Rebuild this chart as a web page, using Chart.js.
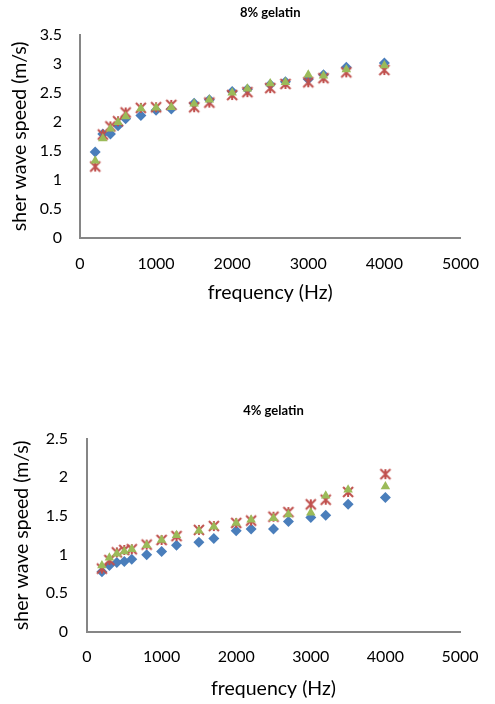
<!DOCTYPE html>
<html>
<head>
<meta charset="utf-8">
<script src="https://cdn.jsdelivr.net/npm/chart.js@4/dist/chart.umd.min.js"></script>
<style>
  html, body { margin: 0; padding: 0; background: #fff; }
  body { width: 495px; height: 704px; position: relative; overflow: hidden; }
  .box { position: absolute; left: 0; width: 495px; }
  #box8 { top: 0; height: 320px; }
  #box4 { top: 400px; height: 304px; }
</style>
</head>
<body>
<div class="box" id="box8"><canvas id="chart-8"></canvas></div>
<div class="box" id="box4"><canvas id="chart-4"></canvas></div>
<script>
// frequencies (Hz), same for both gelatin samples
const freqs = [200, 300, 400, 500, 600, 800, 1000, 1200, 1500, 1700, 2000, 2200, 2500, 2700, 3000, 3200, 3500, 4000];

// 8% gelatin
const g8Blue  = [1.48, 1.79, 1.79, 1.93, 2.05, 2.11, 2.20, 2.22, 2.32, 2.38, 2.52, 2.56, 2.64, 2.69, 2.73, 2.81, 2.94, 3.01];
const g8Red   = [1.23, 1.78, 1.92, 2.01, 2.16, 2.24, 2.25, 2.29, 2.25, 2.33, 2.46, 2.51, 2.58, 2.65, 2.68, 2.75, 2.85, 2.89];
const g8Green = [1.33, 1.71, 1.88, 1.99, 2.09, 2.23, 2.24, 2.25, 2.31, 2.38, 2.50, 2.57, 2.66, 2.68, 2.81, 2.79, 2.90, 2.97];

// 4% gelatin
const g4Blue  = [0.78, 0.86, 0.90, 0.91, 0.94, 1.00, 1.04, 1.12, 1.16, 1.21, 1.31, 1.33, 1.33, 1.43, 1.48, 1.51, 1.65, 1.74];
const g4Red   = [0.82, 0.93, 1.03, 1.06, 1.07, 1.13, 1.19, 1.24, 1.32, 1.37, 1.41, 1.44, 1.49, 1.55, 1.65, 1.71, 1.81, 2.04];
const g4Green = [0.86, 0.96, 1.01, 1.04, 1.07, 1.12, 1.19, 1.25, 1.31, 1.36, 1.41, 1.45, 1.47, 1.52, 1.54, 1.76, 1.84, 1.88];

const xTitle = 'frequency (Hz)';
const yTitle = 'sher wave speed (m/s)';

const FONT = 'Lato, "Open Sans", sans-serif';
const AXIS = '#868686';
const RED = '#C0504D';

// excel-like "star" marker: an X with a vertical bar through it
function starMarker(){
  const c = document.createElement('canvas');
  c.width = 14; c.height = 14;
  const ctx = c.getContext('2d');
  ctx.strokeStyle = RED;
  ctx.lineWidth = 2;
  ctx.lineCap = 'butt';
  ctx.beginPath();
  ctx.moveTo(2, 2); ctx.lineTo(12, 12);
  ctx.moveTo(12, 2); ctx.lineTo(2, 12);
  ctx.moveTo(7, 2); ctx.lineTo(7, 12);
  ctx.stroke();
  return c;
}
const star = starMarker();

function pts(ys){
  return freqs.map((f, i) => ({ x: f, y: ys[i] }));
}

function makeChart(id, title, blue, red, green, yMax, g){
  const el = document.getElementById(id);
  return new Chart(el, {
    type: 'scatter',
    data: {
      datasets: [
        { label: 'a', data: pts(blue), order: 3, pointStyle: 'rectRot', pointRadius: 5.5,
          backgroundColor: '#4A7EBB', borderColor: '#4A7EBB', borderWidth: 0 },
        { label: 'b', data: pts(red), order: 2, pointStyle: star, pointRadius: 7,
          backgroundColor: RED, borderColor: RED, borderWidth: 0 },
        { label: 'c', data: pts(green), order: 1, pointStyle: 'triangle', pointRadius: 5.5,
          backgroundColor: '#9BBB59', borderColor: '#9BBB59', borderWidth: 0 }
      ]
    },
    options: {
      responsive: true,
      maintainAspectRatio: false,
      animation: false,
      layout: { padding: { left: 0, right: g.right, top: 0, bottom: 0 } },
      plugins: {
        legend: { display: false },
        tooltip: { enabled: false },
        title: {
          display: true, text: title, color: '#000', fullSize: false,
          font: { family: FONT, size: 13, weight: 'bold' },
          padding: { top: g.titleTop, bottom: g.titleBottom }
        }
      },
      scales: {
        x: {
          type: 'linear', min: 0, max: 5000,
          grid: { display: false, drawTicks: false },
          border: { display: true, color: AXIS, width: 2 },
          ticks: { stepSize: 1000, padding: g.xPad, color: '#000', maxRotation: 0,
                   font: { family: FONT, size: 16 }, callback: v => String(v) },
          title: { display: true, text: xTitle, color: '#000',
                   font: { family: FONT, size: 19.5 }, padding: { top: 0, bottom: g.xTitlePad } },
          afterFit: s => { s.height = g.xH; }
        },
        y: {
          min: 0, max: yMax,
          grid: { display: false, drawTicks: false },
          border: { display: true, color: AXIS, width: 2 },
          ticks: { stepSize: 0.5, padding: g.yPad, color: '#000',
                   font: { family: FONT, size: 16 }, callback: v => String(v) },
          title: { display: true, text: yTitle, color: '#000',
                   font: { family: FONT, size: 19.5 }, padding: { top: g.yTitlePad, bottom: 0 } },
          afterFit: s => { s.width = g.yW; }
        }
      }
    }
  });
}

makeChart('chart-8', '8% gelatin', g8Blue, g8Red, g8Green, 3.5,
  { right: 19, titleTop: 5, titleBottom: 14, xPad: 16, xTitlePad: 16, xH: 82, yPad: 18, yTitlePad: 8, yW: 80 });
makeChart('chart-4', '4% gelatin', g4Blue, g4Red, g4Green, 2.5,
  { right: 35, titleTop: 3, titleBottom: 20, xPad: 15, xTitlePad: 4, xH: 72, yPad: 19, yTitlePad: 10, yW: 87 });
</script>
</body>
</html>
